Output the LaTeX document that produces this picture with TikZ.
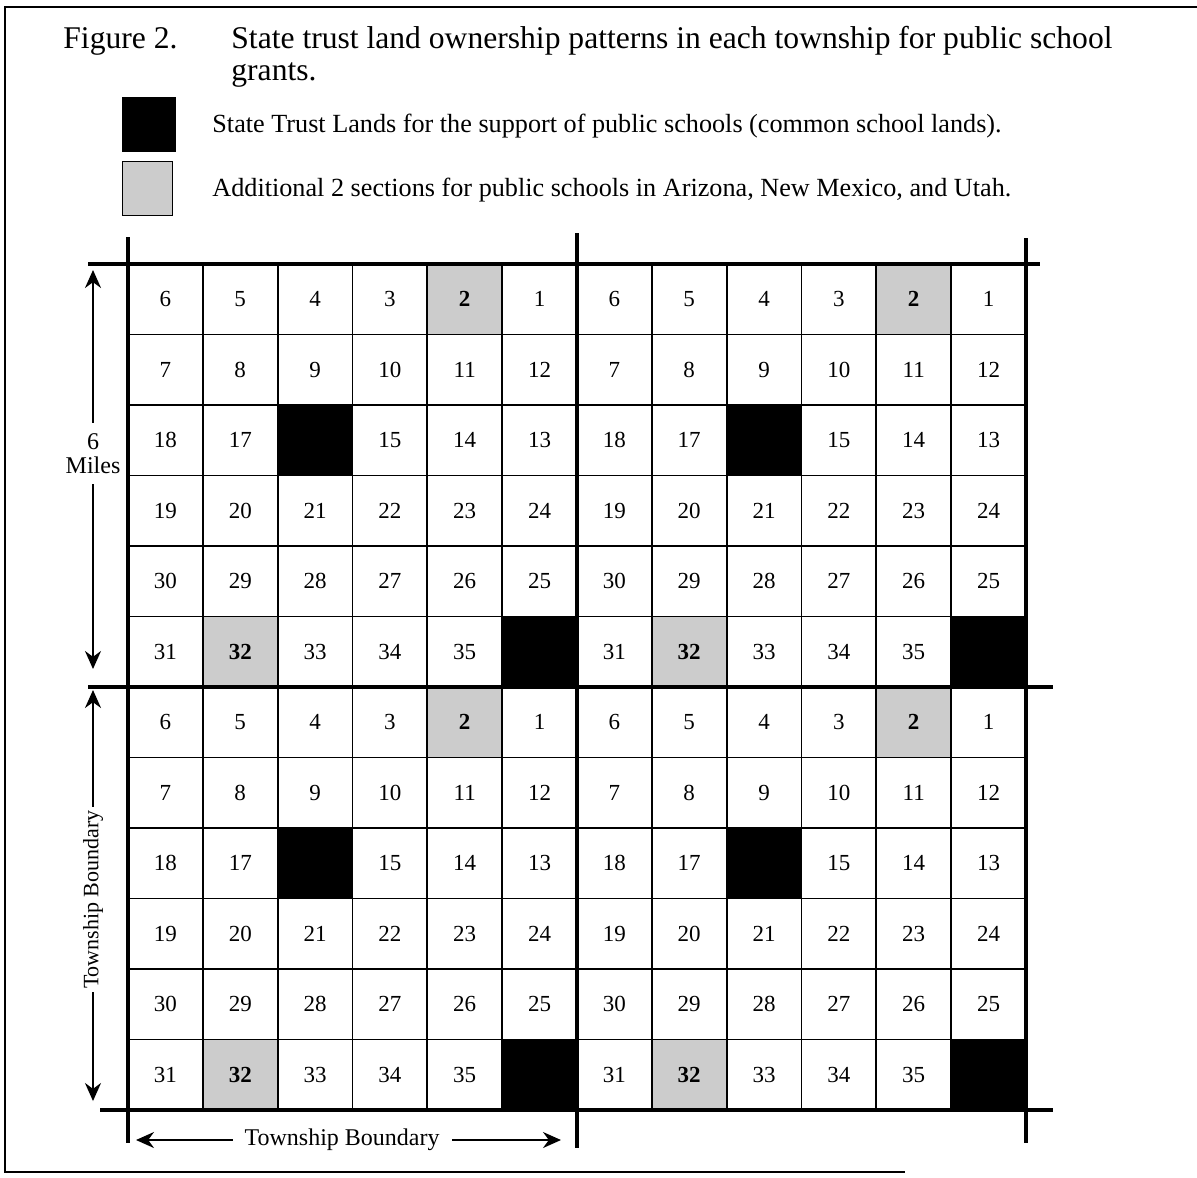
\documentclass[tikz,border=0pt]{standalone}
\usepackage{fontspec}
\setmainfont{Liberation Serif}
\usetikzlibrary{positioning, arrows.meta, arrows}

\begin{document}
\begin{tikzpicture}[x=0.5pt,y=-0.5pt,>={Stealth[length=9pt,width=8pt]},
    sec/.style={draw,line width=0.9pt,minimum width=37.4pt,minimum height=35.25pt,inner sep=0pt,font=\fontsize{11.5}{12}\selectfont},
    trust/.style={sec,fill=black},
    extra/.style={sec,fill=black!20,font=\fontsize{11.5}{12}\selectfont\bfseries},
    bound/.style={line width=1.6pt},
    lbl/.style={fill=white,font=\fontsize{12}{13}\selectfont}]
    \useasboundingbox (0,0) rectangle (1197,1177);

    % page frame, open on the right
    \draw[line width=1.2pt] (1197,7) -- (5,7) -- (5,1172) -- (905,1172);

    % caption and key
    \node[anchor=base west,inner sep=0pt,font=\fontsize{15.8}{16}\selectfont] (fig) at (63,49) {Figure 2.};
    \node[anchor=base west,inner sep=0pt,font=\fontsize{15.8}{16}\selectfont] (title) at (231,49) {State trust land ownership patterns in each township for public school};
    \node[anchor=base west,inner sep=0pt,font=\fontsize{15.8}{16}\selectfont] (title2) at (231,81) {grants.};
    \node[fill=black,minimum width=27pt,minimum height=27.5pt,inner sep=0pt,anchor=north west] (keyA) at (122,97) {};
    \node[anchor=base west,inner sep=0pt,font=\fontsize{13.1}{14}\selectfont] (keyAtext) at (212,133) {State Trust Lands for the support of public schools (common school lands).};
    \node[fill=black!20,draw,line width=0.6pt,minimum width=25pt,minimum height=27pt,inner sep=0pt,anchor=north west] (keyB) at (122,161) {};
    \node[anchor=base west,inner sep=0pt,font=\fontsize{13.1}{14}\selectfont] (keyBtext) at (212,196) {Additional 2 sections for public schools in Arizona, New Mexico, and Utah.};

    % four townships, 36 sections each
    \foreach \ty in {0,1} {
      \foreach \tx in {0,1} {
        \foreach \i in {1,...,6} {
          \foreach \j in {1,...,6} {
            \pgfmathtruncatemacro\n{isodd(\i) ? 6*(\i-1)+7-\j : 6*(\i-1)+\j}
            \pgfmathsetmacro\cx{128+(6*\tx+\j-0.5)*74.83}
            \pgfmathsetmacro\cy{264+(6*\ty+\i-0.5)*70.5}
            \ifnum\n=16
              \node[trust] (t\tx\ty-\n) at (\cx,\cy) {};
            \else\ifnum\n=36
              \node[trust] (t\tx\ty-\n) at (\cx,\cy) {};
            \else\ifnum\n=2
              \node[extra] (t\tx\ty-\n) at (\cx,\cy) {\n};
            \else\ifnum\n=32
              \node[extra] (t\tx\ty-\n) at (\cx,\cy) {\n};
            \else
              \node[sec] (t\tx\ty-\n) at (\cx,\cy) {\n};
            \fi\fi\fi\fi
          }
        }
      }
    }

    % township boundaries
    \draw[bound] (88,264) -- (1040,264);
    \draw[bound] (88,687) -- (1053,687);
    \draw[bound] (100,1110) -- (1053,1110);
    \draw[bound] (128,237) -- (128,1143);
    \draw[bound] (577,233) -- (577,1148);
    \draw[bound] (1026,238) -- (1026,1143);

    % dimension arrows
    \coordinate (milesTop) at (93,270);
    \coordinate (milesBot) at (93,669);
    \coordinate (twTop) at (93,690);
    \coordinate (twBot) at (93,1101);
    \coordinate (ewL) at (136,1140);
    \coordinate (ewR) at (561,1140);
    \draw[<->,line width=1pt] (milesTop) -- (milesBot)
        node[pos=0.46,lbl,align=center,inner xsep=0pt,inner ysep=5pt] (miles) {6\\[-1pt]Miles};
    \draw[<->,line width=1pt] (twTop) -- (twBot)
        node[pos=0.51,lbl,rotate=90,inner sep=1.5pt,font=\fontsize{11}{12}\selectfont] (twV) {Township Boundary};
    \draw[<->,line width=1pt] (ewL) -- (ewR)
        node[pos=0.485,lbl,inner sep=6pt] (twH) {Township Boundary};
\end{tikzpicture}
\end{document}
